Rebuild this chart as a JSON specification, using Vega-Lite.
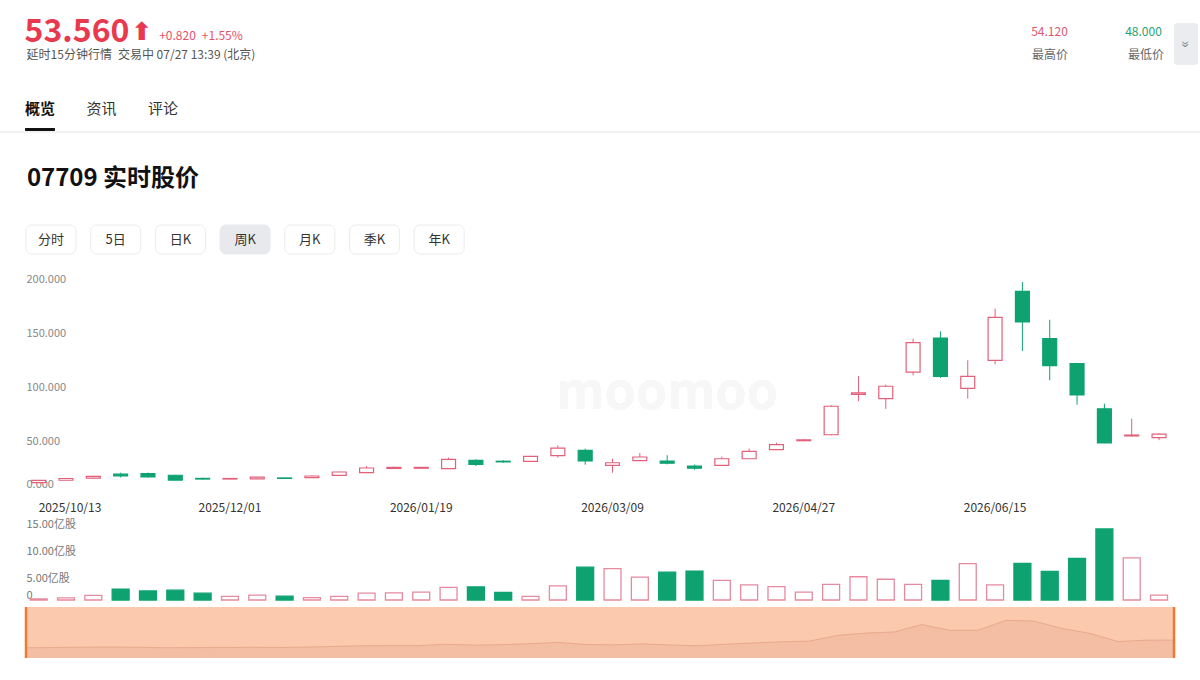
{
"$schema": "https://vega.github.io/schema/vega-lite/v6.json",
"background": "white",
"padding": 0,
"datasets": {
"none": [],
"k": [
{"date":"2025/10/13","open":8.6,"high":11.2,"low":8.2,"close":10.8,"vol":0.2},
{"date":"2025/10/20","open":10.9,"high":13,"low":10.5,"close":12.5,"vol":0.4},
{"date":"2025/10/27","open":12.8,"high":15,"low":12.5,"close":14.4,"vol":0.85},
{"date":"2025/11/03","open":16.5,"high":17.8,"low":13.5,"close":15,"vol":2.0},
{"date":"2025/11/10","open":17,"high":18,"low":13.5,"close":14,"vol":1.65},
{"date":"2025/11/17","open":15.5,"high":15.8,"low":10.8,"close":11,"vol":1.8},
{"date":"2025/11/24","open":12.6,"high":13,"low":11.5,"close":12.0,"vol":1.25},
{"date":"2025/12/01","open":12,"high":12.8,"low":11.7,"close":12.5,"vol":0.65},
{"date":"2025/12/08","open":12.2,"high":14,"low":12,"close":13.7,"vol":0.9},
{"date":"2025/12/15","open":13,"high":13.2,"low":12.3,"close":12.6,"vol":0.7},
{"date":"2025/12/22","open":13.3,"high":15,"low":13,"close":14.8,"vol":0.45},
{"date":"2025/12/29","open":15.4,"high":18.8,"low":15,"close":18.5,"vol":0.65},
{"date":"2026/01/05","open":18,"high":24,"low":17.8,"close":22.2,"vol":1.25},
{"date":"2026/01/12","open":21.8,"high":23.5,"low":21.4,"close":22.8,"vol":1.3},
{"date":"2026/01/19","open":22,"high":23.2,"low":21.8,"close":22.8,"vol":1.45},
{"date":"2026/01/26","open":21.6,"high":31.8,"low":21.3,"close":30.3,"vol":2.3},
{"date":"2026/02/02","open":29.3,"high":30.3,"low":24,"close":25.6,"vol":2.4},
{"date":"2026/02/09","open":28.5,"high":29.5,"low":27,"close":27.9,"vol":1.4},
{"date":"2026/02/16","open":28.4,"high":33.5,"low":28,"close":33,"vol":0.65},
{"date":"2026/02/23","open":33.6,"high":43.2,"low":31.8,"close":40.7,"vol":2.6},
{"date":"2026/03/02","open":38.6,"high":40.1,"low":25.3,"close":28.7,"vol":6.0},
{"date":"2026/03/09","open":24.7,"high":30.8,"low":17.9,"close":27.1,"vol":5.75},
{"date":"2026/03/16","open":29,"high":36.1,"low":28.8,"close":32.4,"vol":4.2},
{"date":"2026/03/23","open":28.7,"high":34,"low":25.6,"close":26.6,"vol":5.1},
{"date":"2026/03/30","open":24,"high":25.3,"low":20.6,"close":22,"vol":5.3},
{"date":"2026/04/06","open":24.7,"high":32.7,"low":24.5,"close":30.8,"vol":3.6},
{"date":"2026/04/13","open":30.8,"high":40.1,"low":30.5,"close":37.7,"vol":2.75},
{"date":"2026/04/20","open":39.2,"high":45.6,"low":39,"close":43.8,"vol":2.45},
{"date":"2026/04/27","open":47.5,"high":49,"low":47,"close":48.3,"vol":1.45},
{"date":"2026/05/04","open":53,"high":80.5,"low":52.5,"close":79.4,"vol":2.85},
{"date":"2026/05/11","open":90.4,"high":107.4,"low":84,"close":91.7,"vol":4.25},
{"date":"2026/05/18","open":86.4,"high":99.4,"low":77,"close":97.9,"vol":3.8},
{"date":"2026/05/25","open":111,"high":142,"low":108,"close":138.3,"vol":2.85},
{"date":"2026/06/01","open":142.6,"high":148.8,"low":105.6,"close":107.1,"vol":3.6},
{"date":"2026/06/08","open":96,"high":122,"low":86.4,"close":107,"vol":6.65},
{"date":"2026/06/15","open":121.9,"high":169.7,"low":118.2,"close":161.7,"vol":2.75},
{"date":"2026/06/22","open":185.8,"high":194.4,"low":130.6,"close":157.4,"vol":6.7},
{"date":"2026/06/29","open":142,"high":159.5,"low":103.4,"close":117,"vol":5.25},
{"date":"2026/07/06","open":119,"high":119.5,"low":80.9,"close":89.8,"vol":7.6},
{"date":"2026/07/13","open":77,"high":81.8,"low":45,"close":45.4,"vol":13.0},
{"date":"2026/07/20","open":51.9,"high":67.9,"low":51.5,"close":52.74,"vol":7.7},
{"date":"2026/07/27","open":50.4,"high":54.12,"low":48.0,"close":53.56,"vol":0.9}
]
},
"spacing": 0,
"vconcat": [
{"spacing": 0, "hconcat": [
  {"spacing": 0, "vconcat": [
    {"width":1174,"height":15,"data":{"name":"none"},"mark":"text"},
    {"spacing": 0, "hconcat": [
      {"width":24,"height":34,"data":{"name":"none"},"mark":"text"},
      {"width":106,"height":34,"data":{"values":[{"a":"53.560"}]},"mark":{"type":"text","baseline":"middle","fontSize":32,"fontWeight":"bold","color":"#e8394f"},"encoding":{"text":{"field":"a"}}},
      {"width":24,"height":34,"data":{"values":[{"a":"⬆"}]},"mark":{"type":"text","baseline":"middle","fontSize":25,"fontWeight":"bold","color":"#e8394f","font":"DejaVu Sans"},"encoding":{"text":{"field":"a"}}},
      {"width":2,"height":34,"data":{"name":"none"},"mark":"text"},
      {"spacing": 0, "vconcat": [
        {"width":90,"height":14.5,"data":{"name":"none"},"mark":"text"},
        {"width":90,"height":12,"data":{"values":[{"a":"+0.820\u2002+1.55%"}]},"mark":{"type":"text","baseline":"middle","fontSize":12,"color":"#e8506a"},"encoding":{"text":{"field":"a"}}}
      ]},
      {"width":779,"height":34,"data":{"name":"none"},"mark":"text"},
      {"width":49,"height":34,"data":{"values":[{"a":"54.120"}]},"mark":{"type":"text","baseline":"middle","fontSize":12,"color":"#e0566e"},"encoding":{"text":{"field":"a"}}},
      {"width":45,"height":34,"data":{"name":"none"},"mark":"text"},
      {"width":49,"height":34,"data":{"values":[{"a":"48.000"}]},"mark":{"type":"text","baseline":"middle","fontSize":12,"color":"#1fa273"},"encoding":{"text":{"field":"a"}}},
      {"width":6,"height":34,"data":{"name":"none"},"mark":"text"}
    ]},
    {"spacing": 0, "hconcat": [
      {"width":25,"height":12,"data":{"name":"none"},"mark":"text"},
      {"width":232,"height":12,"data":{"values":[{"a":"延时15分钟行情\u2002交易中 07/27 13:39 (北京)"}]},"mark":{"type":"text","baseline":"middle","fontSize":12,"color":"#555555"},"encoding":{"text":{"field":"a"}}},
      {"width":767,"height":12,"data":{"name":"none"},"mark":"text"},
      {"width":52,"height":12,"data":{"values":[{"a":"最高价"}]},"mark":{"type":"text","baseline":"middle","fontSize":12,"color":"#666666"},"encoding":{"text":{"field":"a"}}},
      {"width":44,"height":12,"data":{"name":"none"},"mark":"text"},
      {"width":52,"height":12,"data":{"values":[{"a":"最低价"}]},"mark":{"type":"text","baseline":"middle","fontSize":12,"color":"#666666"},"encoding":{"text":{"field":"a"}}},
      {"width":2,"height":12,"data":{"name":"none"},"mark":"text"}
    ]}
  ]},
  {"spacing": 0, "vconcat": [
    {"width":24,"height":23,"data":{"name":"none"},"mark":"text"},
    {"width":24,"height":42,"view":{"fill":"#ebecef","cornerRadius":3},"data":{"values":[{"a":"»"}]},"mark":{"type":"text","angle":90,"fontSize":15,"color":"#888888","baseline":"middle"},"encoding":{"text":{"field":"a"}}}
  ]}
]},
{"width":1,"height":24,"data":{"name":"none"},"mark":"text"},
{"width":203,"height":39,"data":{"values":[{"tab":"概览","sel":true},{"tab":"资讯","sel":false},{"tab":"评论","sel":false}]},
 "encoding":{"x":{"field":"tab","type":"nominal","scale":{"type":"point","padding":0.65,"domain":["概览","资讯","评论"]},"axis":null},"text":{"field":"tab"}},
 "layer":[
  {"transform":[{"filter":{"field":"sel","equal":true}}],"mark":{"type":"text","fontSize":15,"fontWeight":"bold","color":"#111111","baseline":"middle"}},
  {"transform":[{"filter":{"field":"sel","equal":false}}],"mark":{"type":"text","fontSize":15,"color":"#333333","baseline":"middle"}}
 ]},
{"spacing": 0, "hconcat": [
  {"width":25,"height":3,"data":{"name":"none"},"mark":"text"},
  {"width":30,"height":3,"view":{"fill":"#111111","cornerRadius":1},"data":{"name":"none"},"mark":"text"}
]},
{"width":1200,"height":2,"view":{"fill":"#f2f2f2"},"data":{"name":"none"},"mark":"text"},
{"spacing": 0, "hconcat": [
  {"width":23.5,"height":91,"data":{"name":"none"},"mark":"text"},
  {"width":178,"height":91,"data":{"values":[{"a":"07709 实时股价"}]},"mark":{"type":"text","baseline":"middle","fontSize":24,"fontWeight":"bold","color":"#111111"},"encoding":{"text":{"field":"a"}}}
]},
{"spacing": 0, "hconcat": [
  {"width":25,"height":29,"data":{"name":"none"},"mark":"text"},
  {"width":438.2,"height":29,"data":{"values":[{"b":"分时","sel":false},{"b":"5日","sel":false},{"b":"日K","sel":false},{"b":"周K","sel":true},{"b":"月K","sel":false},{"b":"季K","sel":false},{"b":"年K","sel":false}]},
   "encoding":{"x":{"field":"b","type":"nominal","scale":{"domain":["分时","5日","日K","周K","月K","季K","年K"],"paddingInner":0.227,"paddingOuter":0},"axis":null}},
   "layer":[
    {"mark":{"type":"rect","cornerRadius":6,"strokeWidth":1},"encoding":{"fill":{"condition":{"test":"datum.sel","value":"#e8e9ec"},"value":"#ffffff"},"stroke":{"condition":{"test":"datum.sel","value":"#e8e9ec"},"value":"#ececec"}}},
    {"mark":{"type":"text","fontSize":13,"color":"#333333","baseline":"middle"},"encoding":{"text":{"field":"b"}}}
   ]}
]},
{"width":1,"height":18,"data":{"name":"none"},"mark":"text"},
{"spacing": 0, "hconcat": [
  {"width":24.3,"height":216,"data":{"name":"none"},"mark":"text"},
  {"width":1147.7,"height":216,"data":{"name":"k"},
   "encoding":{"x":{"field":"date","type":"ordinal","scale":{"paddingInner":0,"paddingOuter":0},
     "axis":{"values":["2025/10/13","2025/12/01","2026/01/19","2026/03/09","2026/04/27","2026/06/15"],"title":null,"labelAngle":0,"domain":false,"ticks":false,"grid":false,"labelPadding":10,"labelBaseline":"top","labelFontSize":12,"labelColor":"#333333",
       "labelAlign":{"condition":{"test":"datum.value == '2025/10/13'","value":"left"},"value":"center"}}}},
   "layer":[
    {"mark":{"type":"text","fontSize":50,"fontWeight":"bold","color":"#f7f7f7","align":"center","baseline":"middle"},
     "encoding":{"x":{"datum":"2026/03/23"},
      "y":{"datum":91,"type":"quantitative","scale":{"domain":[0,200],"nice":false},
        "axis":{"values":[0,50,100,150,200],"format":".3f","title":null,"domain":false,"ticks":false,"tickSize":0,"grid":false,"labelAlign":"left","labelPadding":-1,"labelOffset":-3,"labelFontSize":11,"labelColor":"#888888",
          "labelBaseline":{"condition":{"test":"datum.value == 0","value":"bottom"},"value":"top"}}},
      "text":{"value":"moomoo"}}},
    {"mark":{"type":"rule","strokeWidth":1},
     "encoding":{"y":{"field":"low","type":"quantitative","scale":{"domain":[0,200],"nice":false},
        "axis":{"values":[0,50,100,150,200],"format":".3f","title":null,"domain":false,"ticks":false,"tickSize":0,"grid":false,"labelAlign":"left","labelPadding":-1,"labelOffset":-3,"labelFontSize":11,"labelColor":"#888888",
          "labelBaseline":{"condition":{"test":"datum.value == 0","value":"bottom"},"value":"top"}}},
      "y2":{"field":"high"},
      "color":{"condition":{"test":"datum.close >= datum.open","value":"#e2607a"},"value":"#0ea271"}}},
    {"mark":{"type":"bar","width":{"band":0.51},"strokeWidth":1.2},
     "encoding":{"y":{"field":"open","type":"quantitative","scale":{"domain":[0,200],"nice":false},
        "axis":{"values":[0,50,100,150,200],"format":".3f","title":null,"domain":false,"ticks":false,"tickSize":0,"grid":false,"labelAlign":"left","labelPadding":-1,"labelOffset":-3,"labelFontSize":11,"labelColor":"#888888",
          "labelBaseline":{"condition":{"test":"datum.value == 0","value":"bottom"},"value":"top"}}},
      "y2":{"field":"close"},
      "fill":{"condition":{"test":"datum.close >= datum.open","value":"#ffffff"},"value":"#0ea271"},
      "stroke":{"condition":{"test":"datum.close >= datum.open","value":"#e2607a"},"value":"#0ea271"}}}
   ]}
]},
{"width":1,"height":5,"data":{"name":"none"},"mark":"text"},
{"spacing": 0, "hconcat": [
  {"width":24.3,"height":82,"data":{"name":"none"},"mark":"text"},
  {"width":1147.7,"height":82,"data":{"name":"k"},
   "mark":{"type":"bar","width":{"band":0.62},"strokeWidth":1.3},
   "encoding":{"x":{"field":"date","type":"ordinal","scale":{"paddingInner":0,"paddingOuter":0},"axis":null},
    "y":{"field":"vol","type":"quantitative","scale":{"domain":[0,15],"nice":false},
      "axis":{"values":[0,5,10,15],"labelExpr":"datum.value == 0 ? '0' : format(datum.value, '.2f') + '亿股'","title":null,"domain":false,"ticks":false,"tickSize":0,"grid":false,"labelAlign":"left","labelPadding":-1,"labelFontSize":11,"labelColor":"#777777",
        "labelBaseline":{"condition":{"test":"datum.value == 0","value":"bottom"},"value":"top"}}},
    "fill":{"condition":{"test":"datum.close >= datum.open","value":"#ffffff"},"value":"#0ea271"},
    "stroke":{"condition":{"test":"datum.close >= datum.open","value":"#e68aa0"},"value":"#0ea271"}}}
]},
{"width":1,"height":4,"data":{"name":"none"},"mark":"text"},
{"spacing": 0, "hconcat": [
  {"width":24,"height":51,"data":{"name":"none"},"mark":"text"},
  {"width":1148,"height":51,"view":{"fill":"#fbc9ad"},
   "layer":[
    {"data":{"name":"k"},"mark":{"type":"area","color":"#f0b99f","line":{"color":"#e9aa8d","strokeWidth":1}},
     "encoding":{"x":{"field":"date","type":"ordinal","scale":{"type":"point","padding":0},"axis":null},
      "y":{"field":"close","type":"quantitative","scale":{"domain":[-45,235],"nice":false,"zero":false},"axis":null},
      "y2":{"datum":-45}}},
    {"data":{"values":[{"date":"2025/10/13"},{"date":"2026/07/27"}]},"mark":{"type":"rule","color":"#f07a30","strokeWidth":2.5},
     "encoding":{"x":{"field":"date","type":"ordinal","scale":{"type":"point","padding":0},"axis":null}}}
   ]}
]}
],
"config": {
 "view": {"stroke": null},
 "font": "Noto Sans CJK SC",
 "concat": {"spacing": 0}
}
}
